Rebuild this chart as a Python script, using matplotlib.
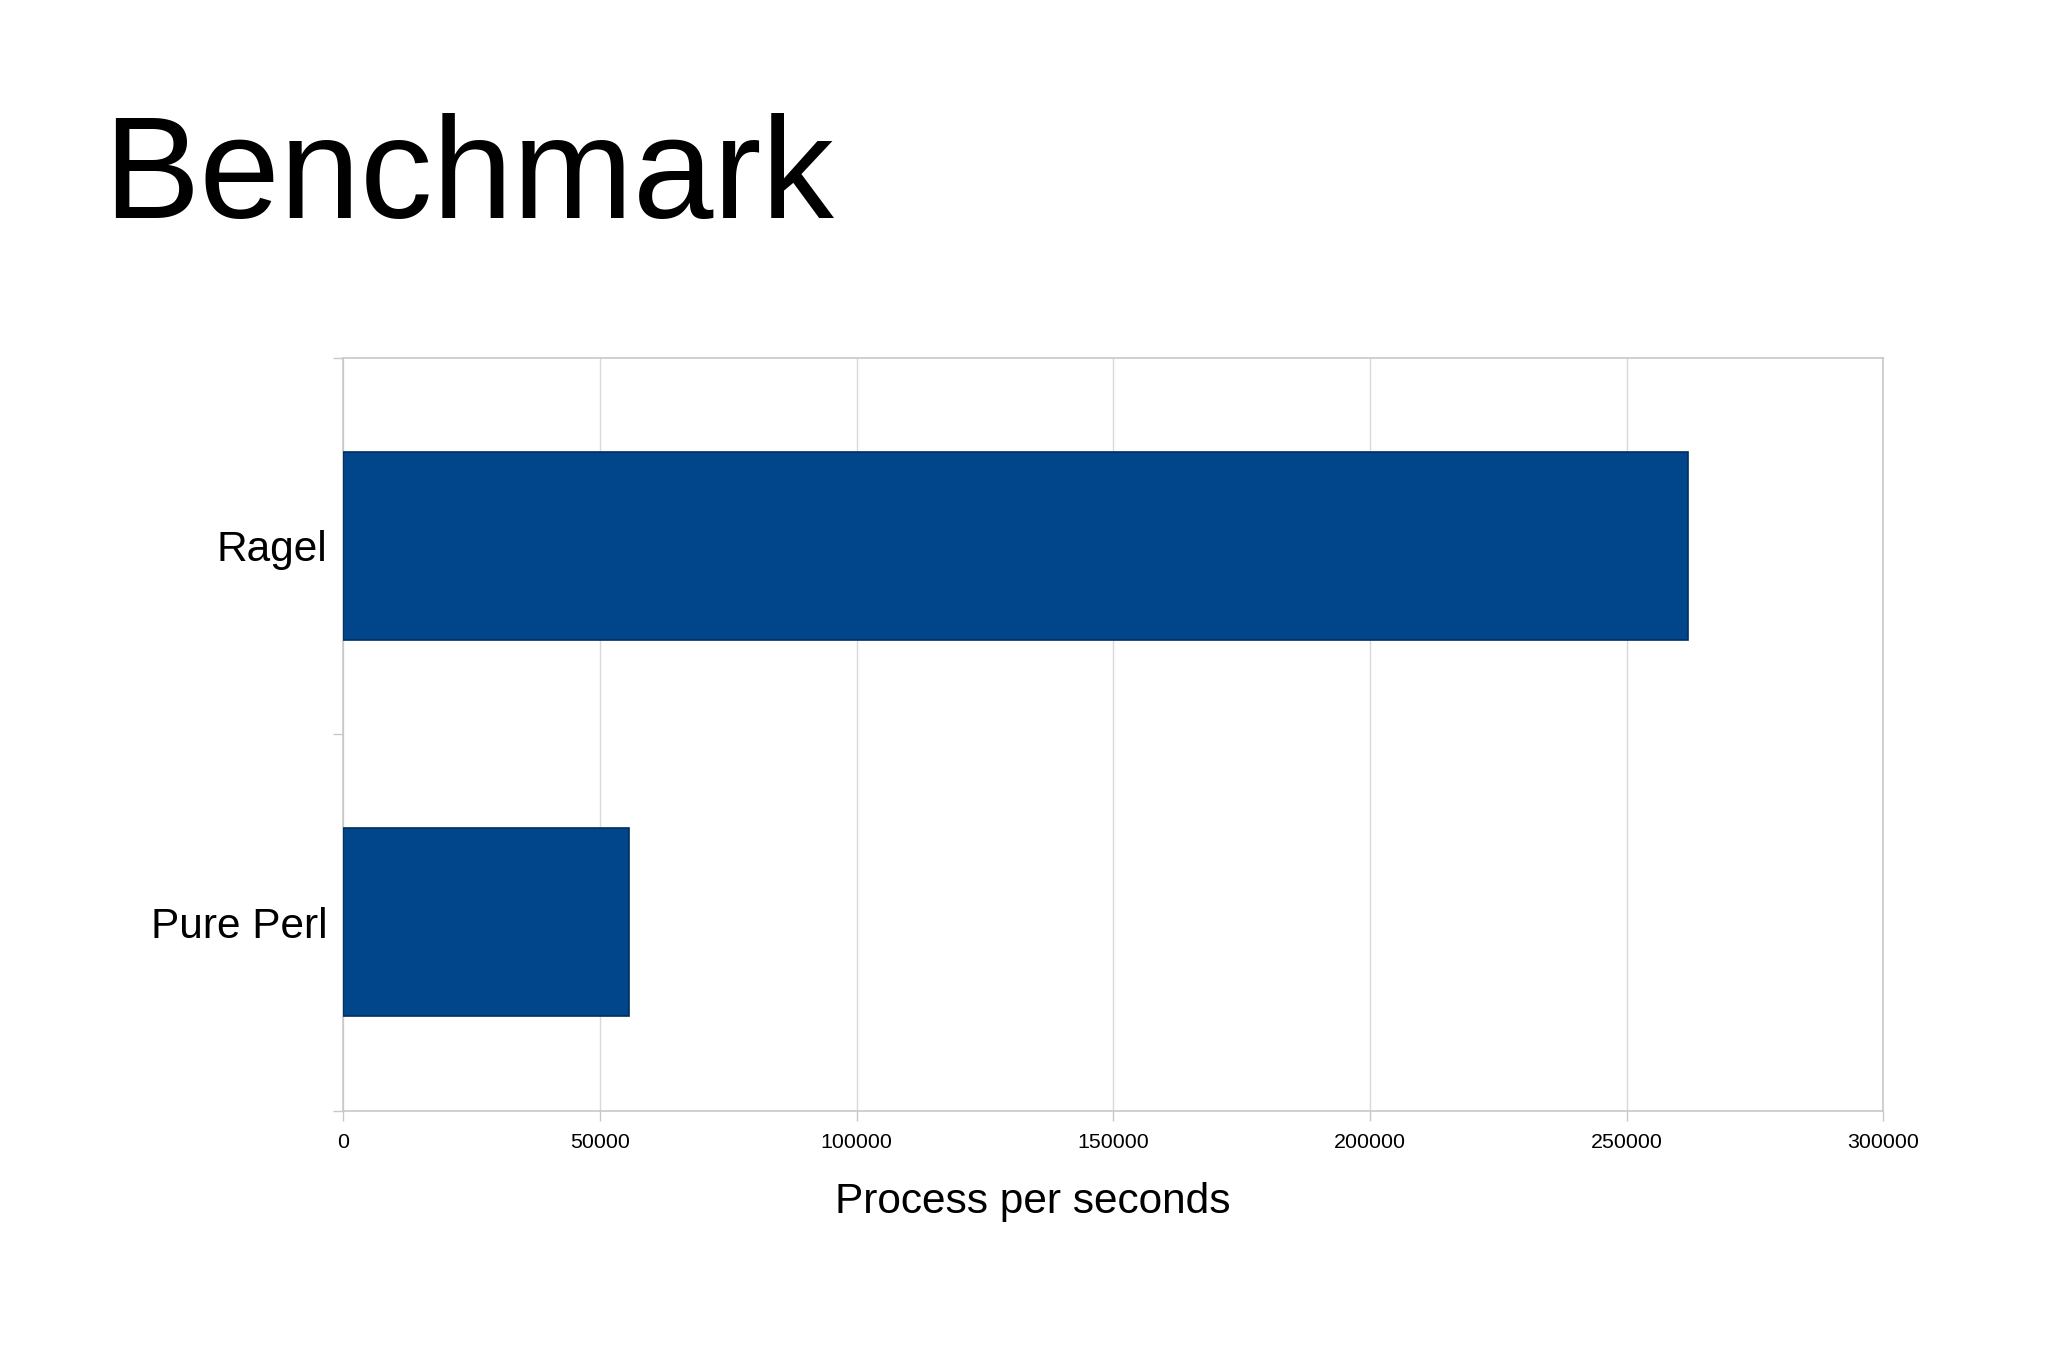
import matplotlib
matplotlib.use('Agg')
import matplotlib.pyplot as plt
from matplotlib.ticker import FixedLocator

plt.rcParams['font.family'] = ['Liberation Sans', 'DejaVu Sans']

# data
categories = ['Pure Perl', 'Ragel']
values = [55700, 262000]
xticks = [0, 50000, 100000, 150000, 200000, 250000, 300000]

bar_color = '#01468a'
grid_color = '#d9d9d9'
frame_color = '#c8c8c8'

fig = plt.figure(figsize=[20.48, 13.65], dpi=100)
ax = fig.add_axes([0.1676, 0.1864, 0.752, 0.5516])

ypos = list(range(len(categories)))
ax.barh(ypos, values, height=0.5, color=bar_color, edgecolor='#002f5e', linewidth=1.2, zorder=3)

ax.set_xlim(0, 300000)
ax.set_ylim(-0.5, len(categories) - 0.5)
ax.set_xticks(xticks)
ax.set_xticklabels([str(t) for t in xticks], fontsize=15.4)
ax.set_yticks(ypos)
ax.set_yticklabels(categories, fontsize=30.5)
ax.yaxis.set_minor_locator(FixedLocator([-0.5, 0.5, 1.5]))

ax.tick_params(axis='y', which='major', length=0, pad=11.5)
ax.tick_params(axis='y', which='minor', length=7.5, width=1, color=frame_color)
ax.tick_params(axis='x', which='major', length=7.5, width=1, color=frame_color, pad=9)

ax.grid(axis='x', color=grid_color, linewidth=1, zorder=0)
for s in ax.spines.values():
    s.set_color(frame_color)
    s.set_linewidth(1.2)

ax.set_xlabel('Process per seconds', fontsize=30.5)
ax.xaxis.set_label_coords(0.448, -0.095)

fig.text(0.0505, 0.840, 'Benchmark', fontsize=104, ha='left', va='baseline')

fig.savefig('out.png', dpi=100, facecolor='white')
